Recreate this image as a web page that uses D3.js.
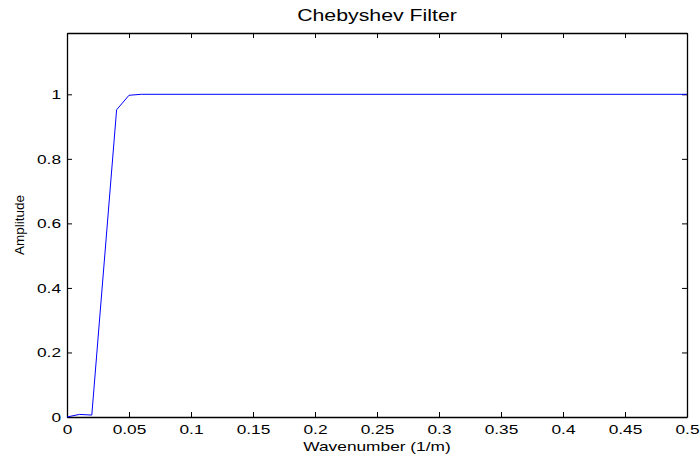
<!DOCTYPE html>
<html>
<head>
<meta charset="utf-8">
<script src="https://cdn.jsdelivr.net/npm/d3@7"></script>
<style>
  body { margin: 0; background: #fff; }
  svg { display: block; }
  text { font-family: "Liberation Sans", Arial, Helvetica, sans-serif; fill: #000; }
</style>
</head>
<body>
<div id="chart"></div>
<script>
// filter response vertices: wavenumber (1/m) and amplitude
const wavenumber = [0, 0.01, 0.02, 0.04, 0.05, 0.06, 0.5];
const amplitude = [0, 0.008, 0.006, 0.952, 0.997, 1.0, 1.0];

const xTicks = [0, 0.05, 0.1, 0.15, 0.2, 0.25, 0.3, 0.35, 0.4, 0.45, 0.5];
const yTicks = [0, 0.2, 0.4, 0.6, 0.8, 1];

const width = 700;
const height = 457;
const margin = { top: 33, right: 13, bottom: 40, left: 67 };
const innerWidth = width - margin.left - margin.right;
const innerHeight = height - margin.top - margin.bottom;

// horizontal text is drawn wider than its nominal size
const stretch = 1.33;
const fontSize = 13;

const svg = d3
  .select("#chart")
  .append("svg")
  .attr("width", width)
  .attr("height", height);

const chartArea = svg
  .append("g")
  .attr("transform", `translate(${margin.left}, ${margin.top})`);

const scaleX = d3.scaleLinear().domain([0, 0.5]).range([0, innerWidth]);
const scaleY = d3.scaleLinear().domain([0, 1.19]).range([innerHeight, 0]);

const fmt = (d) => String(+d.toFixed(2));

// widen glyphs via textLength so the text keeps its anchor position
function widen(sel) {
  sel.each(function () {
    const w = this.getComputedTextLength();
    d3.select(this)
      .attr("textLength", w * stretch)
      .attr("lengthAdjust", "spacingAndGlyphs");
  });
}

function styleAxis(g) {
  g.select(".domain").attr("stroke", "#000").attr("stroke-width", 1.3);
  g.selectAll(".tick line").attr("stroke", "#000").attr("stroke-width", 1);
  g.selectAll(".tick text")
    .attr("font-size", fontSize)
    .attr("font-family", null);
}

// bottom axis with labels
chartArea
  .append("g")
  .attr("transform", `translate(0, ${innerHeight})`)
  .call(
    d3.axisBottom(scaleX)
      .tickValues(xTicks)
      .tickFormat(fmt)
      .tickSizeInner(-5)
      .tickSizeOuter(0)
      .tickPadding(8)
  )
  .call(styleAxis)
  .call((g) => g.selectAll(".tick text").call(widen));

// left axis with labels
chartArea
  .append("g")
  .call(
    d3.axisLeft(scaleY)
      .tickValues(yTicks)
      .tickFormat(fmt)
      .tickSizeInner(-5)
      .tickSizeOuter(0)
      .tickPadding(6)
  )
  .call(styleAxis)
  .call((g) => g.selectAll(".tick text").call(widen));

// top and right axes: ticks only, closing the box
chartArea
  .append("g")
  .call(
    d3.axisTop(scaleX)
      .tickValues(xTicks)
      .tickSizeInner(-5)
      .tickSizeOuter(0)
  )
  .call(styleAxis)
  .call((g) => g.selectAll(".tick text").remove());

chartArea
  .append("g")
  .attr("transform", `translate(${innerWidth}, 0)`)
  .call(
    d3.axisRight(scaleY)
      .tickValues(yTicks)
      .tickSizeInner(-5)
      .tickSizeOuter(0)
  )
  .call(styleAxis)
  .call((g) => g.selectAll(".tick text").remove());

// response curve
const points = wavenumber.map((w, i) => [w, amplitude[i]]);

chartArea
  .append("path")
  .datum(points)
  .attr("fill", "none")
  .attr("stroke", "#0000ff")
  .attr("stroke-width", 1)
  .attr(
    "d",
    d3.line()
      .x((d) => scaleX(d[0]))
      .y((d) => scaleY(d[1]))
  );

// title and axis labels
svg
  .append("text")
  .attr("x", margin.left + innerWidth / 2)
  .attr("y", 21)
  .attr("text-anchor", "middle")
  .attr("font-size", 16)
  .text("Chebyshev Filter")
  .call(widen);

svg
  .append("text")
  .attr("x", margin.left + innerWidth / 2)
  .attr("y", 451)
  .attr("text-anchor", "middle")
  .attr("font-size", fontSize)
  .text("Wavenumber (1/m)")
  .call(widen);

svg
  .append("text")
  .attr("transform", `translate(23.5, ${margin.top + innerHeight / 2}) rotate(-90)`)
  .attr("text-anchor", "middle")
  .attr("font-size", 13.5)
  .text("Amplitude");
</script>
</body>
</html>
